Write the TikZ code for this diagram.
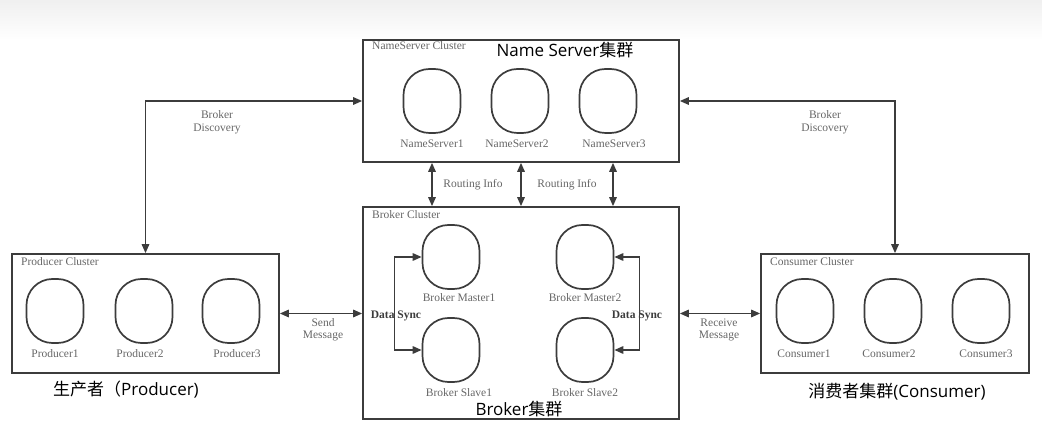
\documentclass[tikz,border=0pt]{standalone}
\usepackage{fontspec}
\setmainfont{Liberation Serif}
\newfontfamily\cjkfont{Noto Sans CJK SC}
\newfontfamily\latfont{Open Sans}
\usetikzlibrary{arrows.meta,calc}
\definecolor{linegray}{HTML}{3C3C3C}
\definecolor{textgray}{HTML}{666666}
\tikzset{
	cluster/.style={draw=linegray, line width=1.7pt, inner sep=0pt},
	server/.style={draw=linegray, line width=1.7pt, rounded corners=26pt, minimum width=57pt, minimum height=64pt, inner sep=0pt},
	small/.style={text=textgray, font=\fontsize{11.5}{12.5}\selectfont, inner sep=0pt},
	title/.style={font=\fontsize{17}{19}\selectfont, inner sep=0pt},
	link/.style={draw=linegray, line width=1.6pt, {Triangle[length=9pt,width=7.5pt]}-{Triangle[length=9pt,width=7.5pt]}},
}

\begin{document}
\begin{tikzpicture}[x=1pt, y=-1pt]
			%%%%% START %%%%%
			\useasboundingbox (0,0) rectangle (1042,427);
			\shade[top color=black!6, bottom color=white] (0,0) rectangle (1042,40);
			
			%% name servers
			\node[cluster, minimum width=316pt, minimum height=122pt] (nsc) at (521,101) {};
			\node[small, anchor=west] (nsclbl) at (372,46) {NameServer Cluster};
			\node[title] (nstitle) at (565,50) {{\latfont Name Server}{\cjkfont 集群}};
			\node[server] (ns1) at (432,101) {};
			\node[server] (ns2) at (520,101) {};
			\node[server] (ns3) at (608,101) {};
			\node[small] (ns1lbl) at (432,144) {NameServer1};
			\node[small] (ns2lbl) at (517,144) {NameServer2};
			\node[small] (ns3lbl) at (614,144) {NameServer3};
			
			%% brokers
			\node[cluster, minimum width=316pt, minimum height=212pt] (bc) at (521,313) {};
			\node[small, anchor=west] (bclbl) at (372,215) {Broker Cluster};
			\node[title] (btitle) at (519,409) {{\latfont Broker}{\cjkfont 集群}};
			\node[server] (bm1) at (451,257) {};
			\node[server] (bm2) at (585,257) {};
			\node[server] (bs1) at (451,350) {};
			\node[server] (bs2) at (585,350) {};
			\node[small] (bm1lbl) at (459,298) {Broker Master1};
			\node[small] (bm2lbl) at (585,298) {Broker Master2};
			\node[small] (bs1lbl) at (459,393) {Broker Slave1};
			\node[small] (bs2lbl) at (585,393) {Broker Slave2};
			
			%% producers
			\node[cluster, minimum width=267pt, minimum height=119pt] (prodc) at (145.5,313.5) {};
			\node[small, anchor=west] (prodclbl) at (21,262) {Producer Cluster};
			\node[title] (prodtitle) at (126,390) {{\cjkfont 生产者（}{\latfont Producer)}};
			\node[server] (p1) at (55,311) {};
			\node[server] (p2) at (144,311) {};
			\node[server] (p3) at (231,311) {};
			\node[small] (p1lbl) at (55,354) {Producer1};
			\node[small] (p2lbl) at (140,354) {Producer2};
			\node[small] (p3lbl) at (237,354) {Producer3};
			
			%% consumers
			\node[cluster, minimum width=268pt, minimum height=119pt] (conc) at (895,313.5) {};
			\node[small, anchor=west] (conclbl) at (770,262) {Consumer Cluster};
			\node[title] (contitle) at (897,392) {{\cjkfont 消费者集群}{\latfont (Consumer)}};
			\node[server] (c1) at (805,311) {};
			\node[server] (c2) at (893,311) {};
			\node[server] (c3) at (981,311) {};
			\node[small] (c1lbl) at (804,354) {Consumer1};
			\node[small] (c2lbl) at (889,354) {Consumer2};
			\node[small] (c3lbl) at (986,354) {Consumer3};
			
			%% links
			\coordinate (rt) at (613,0);
			\draw[link] (nsc.west) -| (prodc.north);
			\draw[link] (nsc.east) -| (conc.north);
			\node[small, align=center] (bdl) at (217,122.5) {Broker\\Discovery};
			\node[small, align=center] (bdr) at (825,122.5) {Broker\\Discovery};
			
			\draw[link] (nsc.south -| ns1) -- (bc.north -| ns1);
			\draw[link] (nsc.south) -- (bc.north);
			\draw[link] (nsc.south -| rt) -- (bc.north -| rt);
			\node[small] (ri1) at (473,185) {Routing Info};
			\node[small] (ri2) at (567,185) {Routing Info};
			
			\draw[link] (bm1.west) -- ++(-27,0) |- (bs1.west);
			\draw[link] (bm2.east) -- ++(25,0) |- (bs2.east);
			\node[small, text=linegray, font=\fontsize{11.5}{12.5}\selectfont\bfseries] (dsl) at (396,316) {Data Sync};
			\node[small, text=linegray, font=\fontsize{11.5}{12.5}\selectfont\bfseries] (dsr) at (637,316) {Data Sync};
			
			\draw[link] (prodc.east) -- (prodc.east -| bc.west);
			\draw[link] (bc.east |- conc.west) -- (conc.west);
			\node[small, align=center] (sm) at (323,330) {Send\\Message};
			\node[small, align=center] (rm) at (719,330) {Receive\\Message};
			%%%%% END %%%%%
\end{tikzpicture}
\end{document}
